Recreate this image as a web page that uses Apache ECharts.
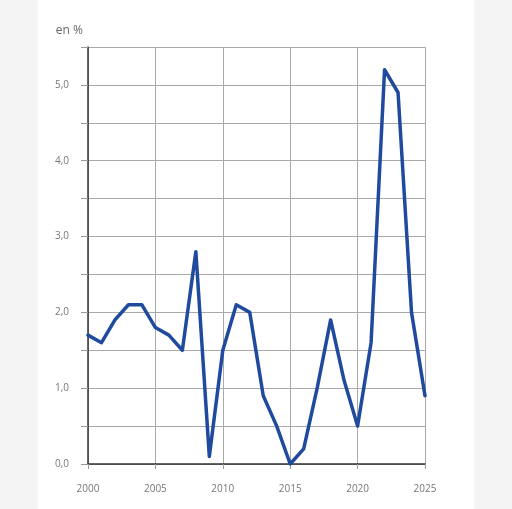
<!DOCTYPE html>
<html>
<head>
<meta charset="utf-8">
<script src="https://cdn.jsdelivr.net/npm/echarts@6/dist/echarts.min.js"></script>
<style>
  html, body { margin: 0; padding: 0; background: #f4f4f4; }
  #panel { position: absolute; left: 38px; top: 0; width: 436px; height: 509px; background: #ffffff; }
  #chart { position: absolute; left: 0; top: 0; width: 512px; height: 509px; }
</style>
</head>
<body>
<div id="panel"></div>
<div id="chart"></div>
<script>
// years and inflation rate (en %)
var years = [2000, 2001, 2002, 2003, 2004, 2005, 2006, 2007, 2008, 2009, 2010, 2011, 2012,
  2013, 2014, 2015, 2016, 2017, 2018, 2019, 2020, 2021, 2022, 2023, 2024, 2025];
var values = [1.7, 1.6, 1.9, 2.1, 2.1, 1.8, 1.7, 1.5, 2.8, 0.1, 1.5, 2.1, 2.0,
  0.9, 0.5, 0.0, 0.2, 1.0, 1.9, 1.1, 0.5, 1.6, 5.2, 4.9, 2.0, 0.9];

var chart = echarts.init(document.getElementById('chart'), null, { renderer: 'canvas' });
var seriesData = years.map(function (y, i) { return [y, values[i]]; });

chart.setOption({
  backgroundColor: 'transparent',
  animation: false,
  grid: { left: 88, right: 87, top: 47, bottom: 45 },
  xAxis: {
    type: 'value',
    min: 2000,
    max: 2025,
    interval: 5,
    axisLine: { show: true, lineStyle: { color: '#333333', width: 1.5 } },
    axisTick: { show: true, length: 5, lineStyle: { color: '#999999' } },
    axisLabel: {
      color: '#777777', fontSize: 10, fontFamily: 'Open Sans', margin: 20,
      formatter: function (v) { return String(v); }
    },
    splitLine: { show: true, lineStyle: { color: '#aaaaaa', width: 1 } }
  },
  yAxis: {
    type: 'value',
    min: 0,
    max: 5.5,
    interval: 0.5,
    name: 'en %',
    nameLocation: 'end',
    nameGap: 10,
    nameTextStyle: { color: '#666666', fontSize: 12, fontFamily: 'Open Sans', align: 'right', padding: [0, 5, 0, 0] },
    axisLine: { show: true, lineStyle: { color: '#333333', width: 1.5 } },
    axisTick: { show: true, length: 7, lineStyle: { color: '#999999' } },
    axisLabel: {
      color: '#777777', fontSize: 10, fontFamily: 'Open Sans', margin: 19,
      formatter: function (v) {
        if (Math.abs(v - Math.round(v)) > 1e-6) return '';
        return v.toFixed(1).replace('.', ',');
      }
    },
    splitLine: { show: true, lineStyle: { color: '#aaaaaa', width: 1 } }
  },
  series: [{
    type: 'line',
    data: seriesData,
    symbol: 'none',
    lineStyle: { color: '#1f4a9e', width: 3.5, join: 'round', cap: 'round' },
    itemStyle: { color: '#1f4a9e' }
  }]
});
</script>
</body>
</html>
